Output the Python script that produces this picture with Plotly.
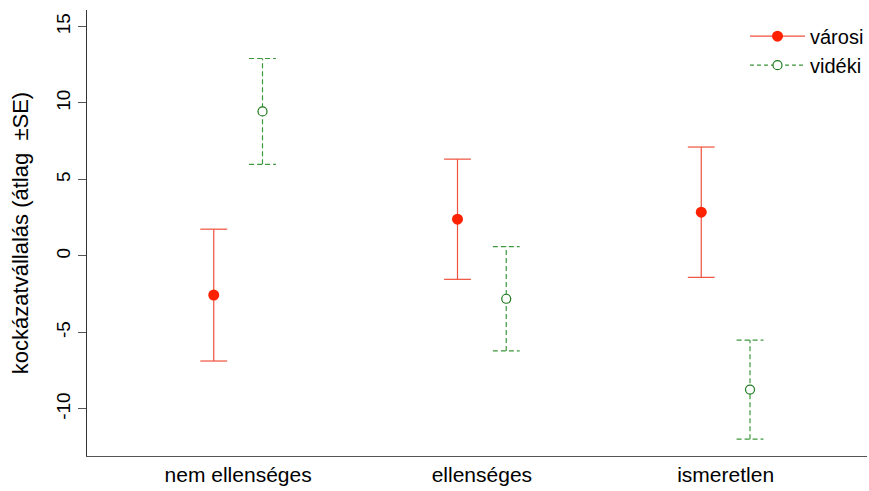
import plotly.graph_objects as go

categories = ["nem ellenséges", "ellenséges", "ismeretlen"]
varosi_mean = [-2.56, 2.40, 2.86]
varosi_se = [4.31, 3.93, 4.26]
videki_mean = [9.45, -2.80, -8.74]
videki_se = [3.46, 3.41, 3.24]
y_ticks = [-10, -5, 0, 5, 10, 15]

OFFSET = 0.1
CAP = 0.055

RED_LINE = "#F0503C"
RED_PT = "#FF2200"
GREEN_LINE = "#3C963C"
GREEN_PT = "#1E7A1E"


def bar_path(xs, means, ses):
    px, py = [], []
    for x, m, s in zip(xs, means, ses):
        lo, hi = m - s, m + s
        px += [x, x, None, x - CAP, x + CAP, None, x - CAP, x + CAP, None]
        py += [lo, hi, None, lo, lo, None, hi, hi, None]
    return px, py


xr = [i + 1 - OFFSET for i in range(len(categories))]
xg = [i + 1 + OFFSET for i in range(len(categories))]

fig = go.Figure()

rx, ry = bar_path(xr, varosi_mean, varosi_se)
gx, gy = bar_path(xg, videki_mean, videki_se)

fig.add_trace(go.Scatter(x=rx, y=ry, mode="lines", line=dict(color=RED_LINE, width=1.2),
                         showlegend=False, hoverinfo="skip"))
fig.add_trace(go.Scatter(x=gx, y=gy, mode="lines",
                         line=dict(color=GREEN_LINE, width=1.2, dash="5px,3px"),
                         showlegend=False, hoverinfo="skip"))
fig.add_trace(go.Scatter(x=xr, y=varosi_mean, mode="markers",
                         marker=dict(color=RED_PT, size=11, line=dict(width=0)),
                         showlegend=False))
fig.add_trace(go.Scatter(x=xg, y=videki_mean, mode="markers",
                         marker=dict(color="white", size=9, line=dict(color=GREEN_PT, width=1.2)),
                         showlegend=False))

# legend entries
fig.add_trace(go.Scatter(x=[None], y=[None], mode="lines+markers", name="városi",
                         line=dict(color=RED_LINE, width=1.2),
                         marker=dict(color=RED_PT, size=11)))
fig.add_trace(go.Scatter(x=[None], y=[None], mode="lines+markers", name="vidéki",
                         line=dict(color=GREEN_LINE, width=1.2, dash="4px,3px"),
                         marker=dict(color="white", size=9, line=dict(color=GREEN_PT, width=1.2))))

FONT = "Liberation Sans, Arial, sans-serif"

fig.update_layout(
    width=869, height=491,
    margin=dict(l=87, r=0, t=10, b=35),
    paper_bgcolor="white", plot_bgcolor="white",
    font=dict(family=FONT, color="black"),
    showlegend=True,
    legend=dict(x=0.844, y=0.985, xanchor="left", yanchor="top",
                font=dict(size=20, family=FONT), bgcolor="rgba(0,0,0,0)",
                itemwidth=55, tracegroupgap=0),
    xaxis=dict(range=[0.38, 3.58], tickvals=[1, 2, 3], ticktext=categories,
               automargin=False,
               showgrid=False, zeroline=False, showline=True, linecolor="#555555",
               linewidth=1, ticks="", tickfont=dict(size=21, family=FONT)),
    yaxis=dict(range=[-13.08, 16.08], tickvals=y_ticks, ticktext=[str(v) for v in y_ticks],
               automargin=False,
               showgrid=False, zeroline=False,
               showline=True, linecolor="#333333", linewidth=1, ticks="outside",
               ticklen=8, tickcolor="#555555", tickangle=-90,
               tickfont=dict(size=19, family=FONT),
               title=dict(text="kockázatvállalás (átlag  ±SE)", font=dict(size=22, family=FONT),
                          standoff=18)),
)

fig.write_html("out.html", config={"displayModeBar": False},
               post_script="document.body.style.margin='0';document.body.style.overflow='hidden';")
